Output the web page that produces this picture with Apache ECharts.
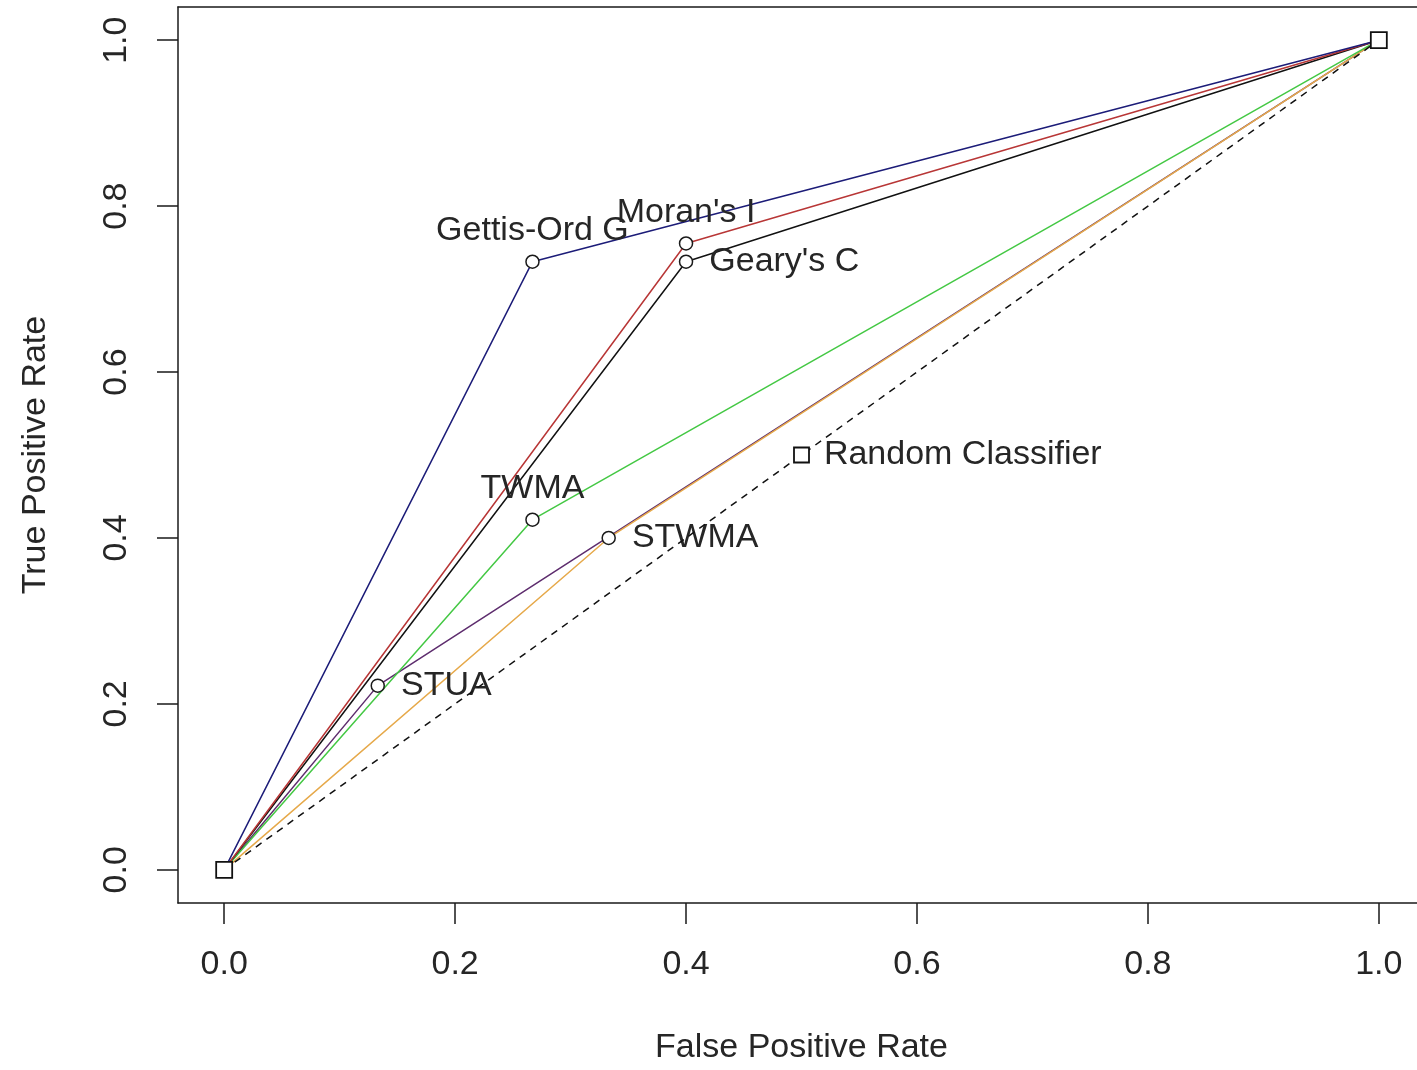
<!DOCTYPE html>
<html>
<head>
<meta charset="utf-8">
<title>ROC curves</title>
<script src="https://cdn.jsdelivr.net/npm/echarts@6/dist/echarts.min.js"></script>
<style>
  html, body { margin: 0; padding: 0; background: #fff; }
  #chart { width: 1417px; height: 1070px; }
</style>
</head>
<body>
<div id="chart"></div>
<script>
// ROC points per method: [false positive rate, true positive rate]
const gettisOrdG = [[0, 0], [0.267, 0.733], [1, 1]];
const moransI    = [[0, 0], [0.4, 0.755], [1, 1]];
const gearysC    = [[0, 0], [0.4, 0.733], [1, 1]];
const twma       = [[0, 0], [0.267, 0.422], [1, 1]];
const stwma      = [[0, 0], [0.333, 0.4], [1, 1]];
const stua       = [[0, 0], [0.133, 0.222], [1, 1]];
const randomClassifier = [[0, 0], [0.5, 0.5], [1, 1]];

const tickValues = [0, 0.2, 0.4, 0.6, 0.8, 1.0];

const FONT = "'Liberation Sans', Arial, sans-serif";
const TEXT = '#262626';
const FRAME = { color: '#1a1a1a', width: 1.5 };

// one line per method; only the operating point carries a marker and a label
function rocSeries(name, points, color, labelPos) {
  return {
    name: name,
    type: 'line',
    lineStyle: { color: color, width: 1.5 },
    itemStyle: { color: '#fff', borderColor: '#1a1a1a', borderWidth: 1.5 },
    symbol: 'none',
    z: 3,
    data: points.map(function (p, i) {
      if (i !== 1) return { value: p, symbol: 'none' };
      return {
        value: p,
        symbol: 'circle',
        symbolSize: 13,
        label: Object.assign({
          show: true,
          formatter: name,
          fontFamily: FONT,
          fontSize: 34,
          color: TEXT
        }, labelPos)
      };
    })
  };
}

const above = { position: 'top', distance: 7 };
const right = { position: 'right', distance: 16 };

const axisCommon = {
  type: 'value',
  min: -0.04, max: 1.04,
  nameLocation: 'middle',
  nameTextStyle: { fontFamily: FONT, fontSize: 34, color: TEXT },
  axisLine: { show: true, onZero: false, lineStyle: FRAME },
  splitLine: { show: false },
  axisTick: {
    show: true, inside: false, length: 21, customValues: tickValues,
    lineStyle: FRAME
  }
};

const option = {
  backgroundColor: '#ffffff',
  animation: false,
  grid: {
    left: 178, top: 7, width: 1247, height: 896,
    outerBoundsMode: 'none',
    show: false, containLabel: false
  },
  xAxis: [
    Object.assign({}, axisCommon, {
      position: 'bottom',
      name: 'False Positive Rate',
      nameGap: 128,
      axisLabel: {
        customValues: tickValues, margin: 45,
        formatter: function (v) { return v.toFixed(1); },
        fontFamily: FONT, fontSize: 34, color: TEXT
      }
    }),
    // top edge of the plot frame
    {
      type: 'value', position: 'top', min: -0.04, max: 1.04,
      axisLine: { show: true, onZero: false, lineStyle: FRAME },
      axisTick: { show: false }, axisLabel: { show: false }, splitLine: { show: false }
    }
  ],
  yAxis: Object.assign({}, axisCommon, {
    name: 'True Positive Rate',
    nameGap: 125,
    axisLabel: {
      customValues: tickValues, margin: 44, rotate: 90,
      formatter: function (v) { return v.toFixed(1); },
      fontFamily: FONT, fontSize: 34, color: TEXT
    }
  }),
  series: [
    {
      name: 'Random Classifier',
      type: 'line',
      lineStyle: { color: '#111', width: 1.5, type: [7, 6] },
      itemStyle: { color: '#fff', borderColor: '#111', borderWidth: 1.8 },
      symbol: 'rect',
      symbolSize: 16,
      z: 4,
      data: randomClassifier.map(function (p, i) {
        if (i !== 1) return { value: p };
        return {
          value: p,
          symbolSize: 15,
          label: {
            show: true, formatter: 'Random Classifier', position: 'right', distance: 14,
            fontFamily: FONT, fontSize: 34, color: TEXT
          }
        };
      })
    },
    rocSeries('STUA', stua, '#5e2d6e', right),
    rocSeries('STWMA', stwma, '#e6a94a', right),
    rocSeries('TWMA', twma, '#44c844', above),
    rocSeries("Geary's C", gearysC, '#111111', right),
    rocSeries("Moran's I", moransI, '#b83636', above),
    rocSeries('Gettis-Ord G', gettisOrdG, '#1c1c78', above)
  ]
};

const chart = echarts.init(document.getElementById('chart'), null, { renderer: 'canvas' });
chart.setOption(option);
</script>
</body>
</html>
